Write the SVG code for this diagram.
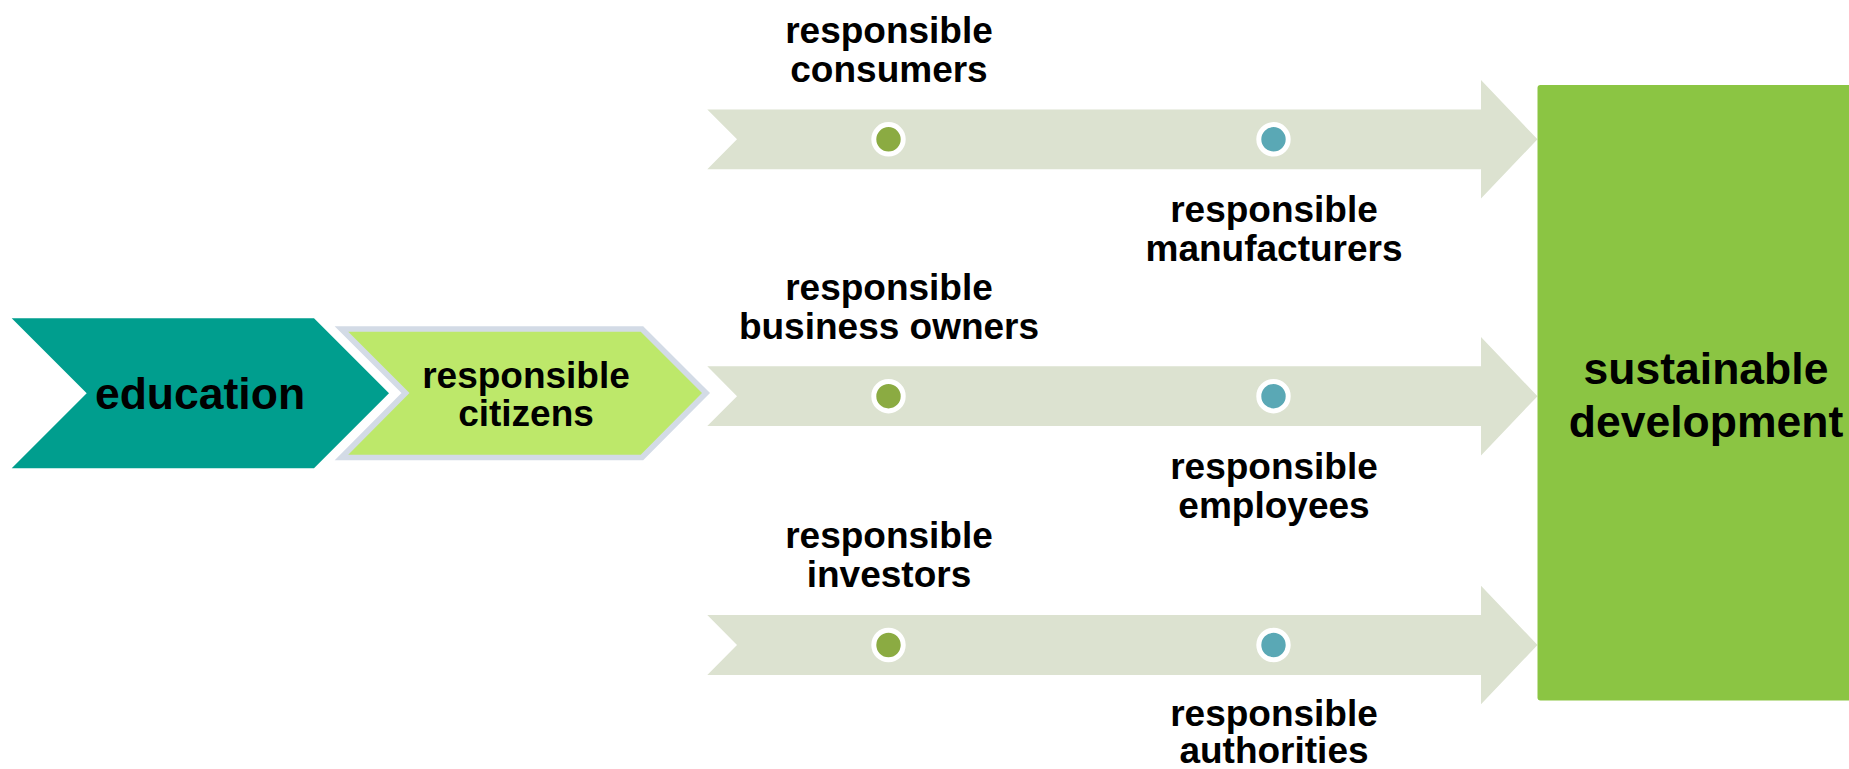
<svg xmlns="http://www.w3.org/2000/svg" width="1849" height="769" viewBox="0 0 1849 769">
  <style>
    .t { font-family: "Liberation Sans", Arial, sans-serif; font-weight: bold; fill: #000; text-anchor: middle; }
    .lbl { font-size: 37px; }
    .big { font-size: 44.5px; }
    .arrow { fill: #DCE2D0; }
    .dotg { fill: #8BAB42; stroke: #FFFFFF; stroke-width: 5; }
    .dott { fill: #5AA8B5; stroke: #FFFFFF; stroke-width: 5; }
  </style>
  <rect width="1849" height="769" fill="#FFFFFF"/>

  <g id="connectors">
    <polygon class="arrow" points="707.3,109.4 1481,109.4 1481,80 1537.5,139.3 1481,198.6 1481,169.2 707.3,169.2 737,139.3"/>
    <polygon class="arrow" points="707.3,366.3 1481,366.3 1481,337 1537.5,396.2 1481,455.4 1481,426.1 707.3,426.1 737,396.2"/>
    <polygon class="arrow" points="707.3,615.1 1481,615.1 1481,585.8 1537.5,645 1481,704.2 1481,674.9 707.3,674.9 737,645"/>
  </g>

  <g id="education">
    <polygon fill="#009E8E" points="11.7,318.3 314,318.3 389,393.3 314,468.3 11.7,468.3 86.7,393.3"/>
    <text class="t big" x="200" y="408.5">education</text>
  </g>

  <g id="citizens">
    <polygon fill="#BDE86A" stroke="#D3DBE6" stroke-width="5.7" stroke-linejoin="miter" points="341.5,329 642,329 706,393 642,457.5 341.5,457.5 405.5,393"/>
    <text class="t lbl" x="526" y="387.5">responsible</text>
    <text class="t lbl" x="526" y="426">citizens</text>
  </g>

  <g id="sustainable-development">
    <rect x="1537.5" y="85" width="330" height="615.5" rx="3" fill="#8BC543"/>
    <text class="t" style="font-size:44.5px" x="1706" y="384">sustainable</text>
    <text class="t" style="font-size:44.5px" x="1706" y="437">development</text>
  </g>

  <g id="dots">
    <circle class="dotg" cx="888.5" cy="139.3" r="14.7"/>
    <circle class="dott" cx="1273.5" cy="139.3" r="14.7"/>
    <circle class="dotg" cx="888.5" cy="396.2" r="14.7"/>
    <circle class="dott" cx="1273.5" cy="396.2" r="14.7"/>
    <circle class="dotg" cx="888.5" cy="645" r="14.7"/>
    <circle class="dott" cx="1273.5" cy="645" r="14.7"/>
  </g>

  <g id="consumers">
    <text class="t lbl" x="889" y="42.5">responsible</text>
    <text class="t lbl" x="889" y="81.5">consumers</text>
  </g>
  <g id="manufacturers">
    <text class="t lbl" x="1274" y="222">responsible</text>
    <text class="t lbl" x="1274" y="261">manufacturers</text>
  </g>
  <g id="business-owners">
    <text class="t lbl" x="889" y="299.5">responsible</text>
    <text class="t lbl" x="889" y="338.5">business owners</text>
  </g>
  <g id="employees">
    <text class="t lbl" x="1274" y="479">responsible</text>
    <text class="t lbl" x="1274" y="518">employees</text>
  </g>
  <g id="investors">
    <text class="t lbl" x="889" y="548">responsible</text>
    <text class="t lbl" x="889" y="587">investors</text>
  </g>
  <g id="authorities">
    <text class="t lbl" x="1274" y="726">responsible</text>
    <text class="t lbl" x="1274" y="763">authorities</text>
  </g>
</svg>
